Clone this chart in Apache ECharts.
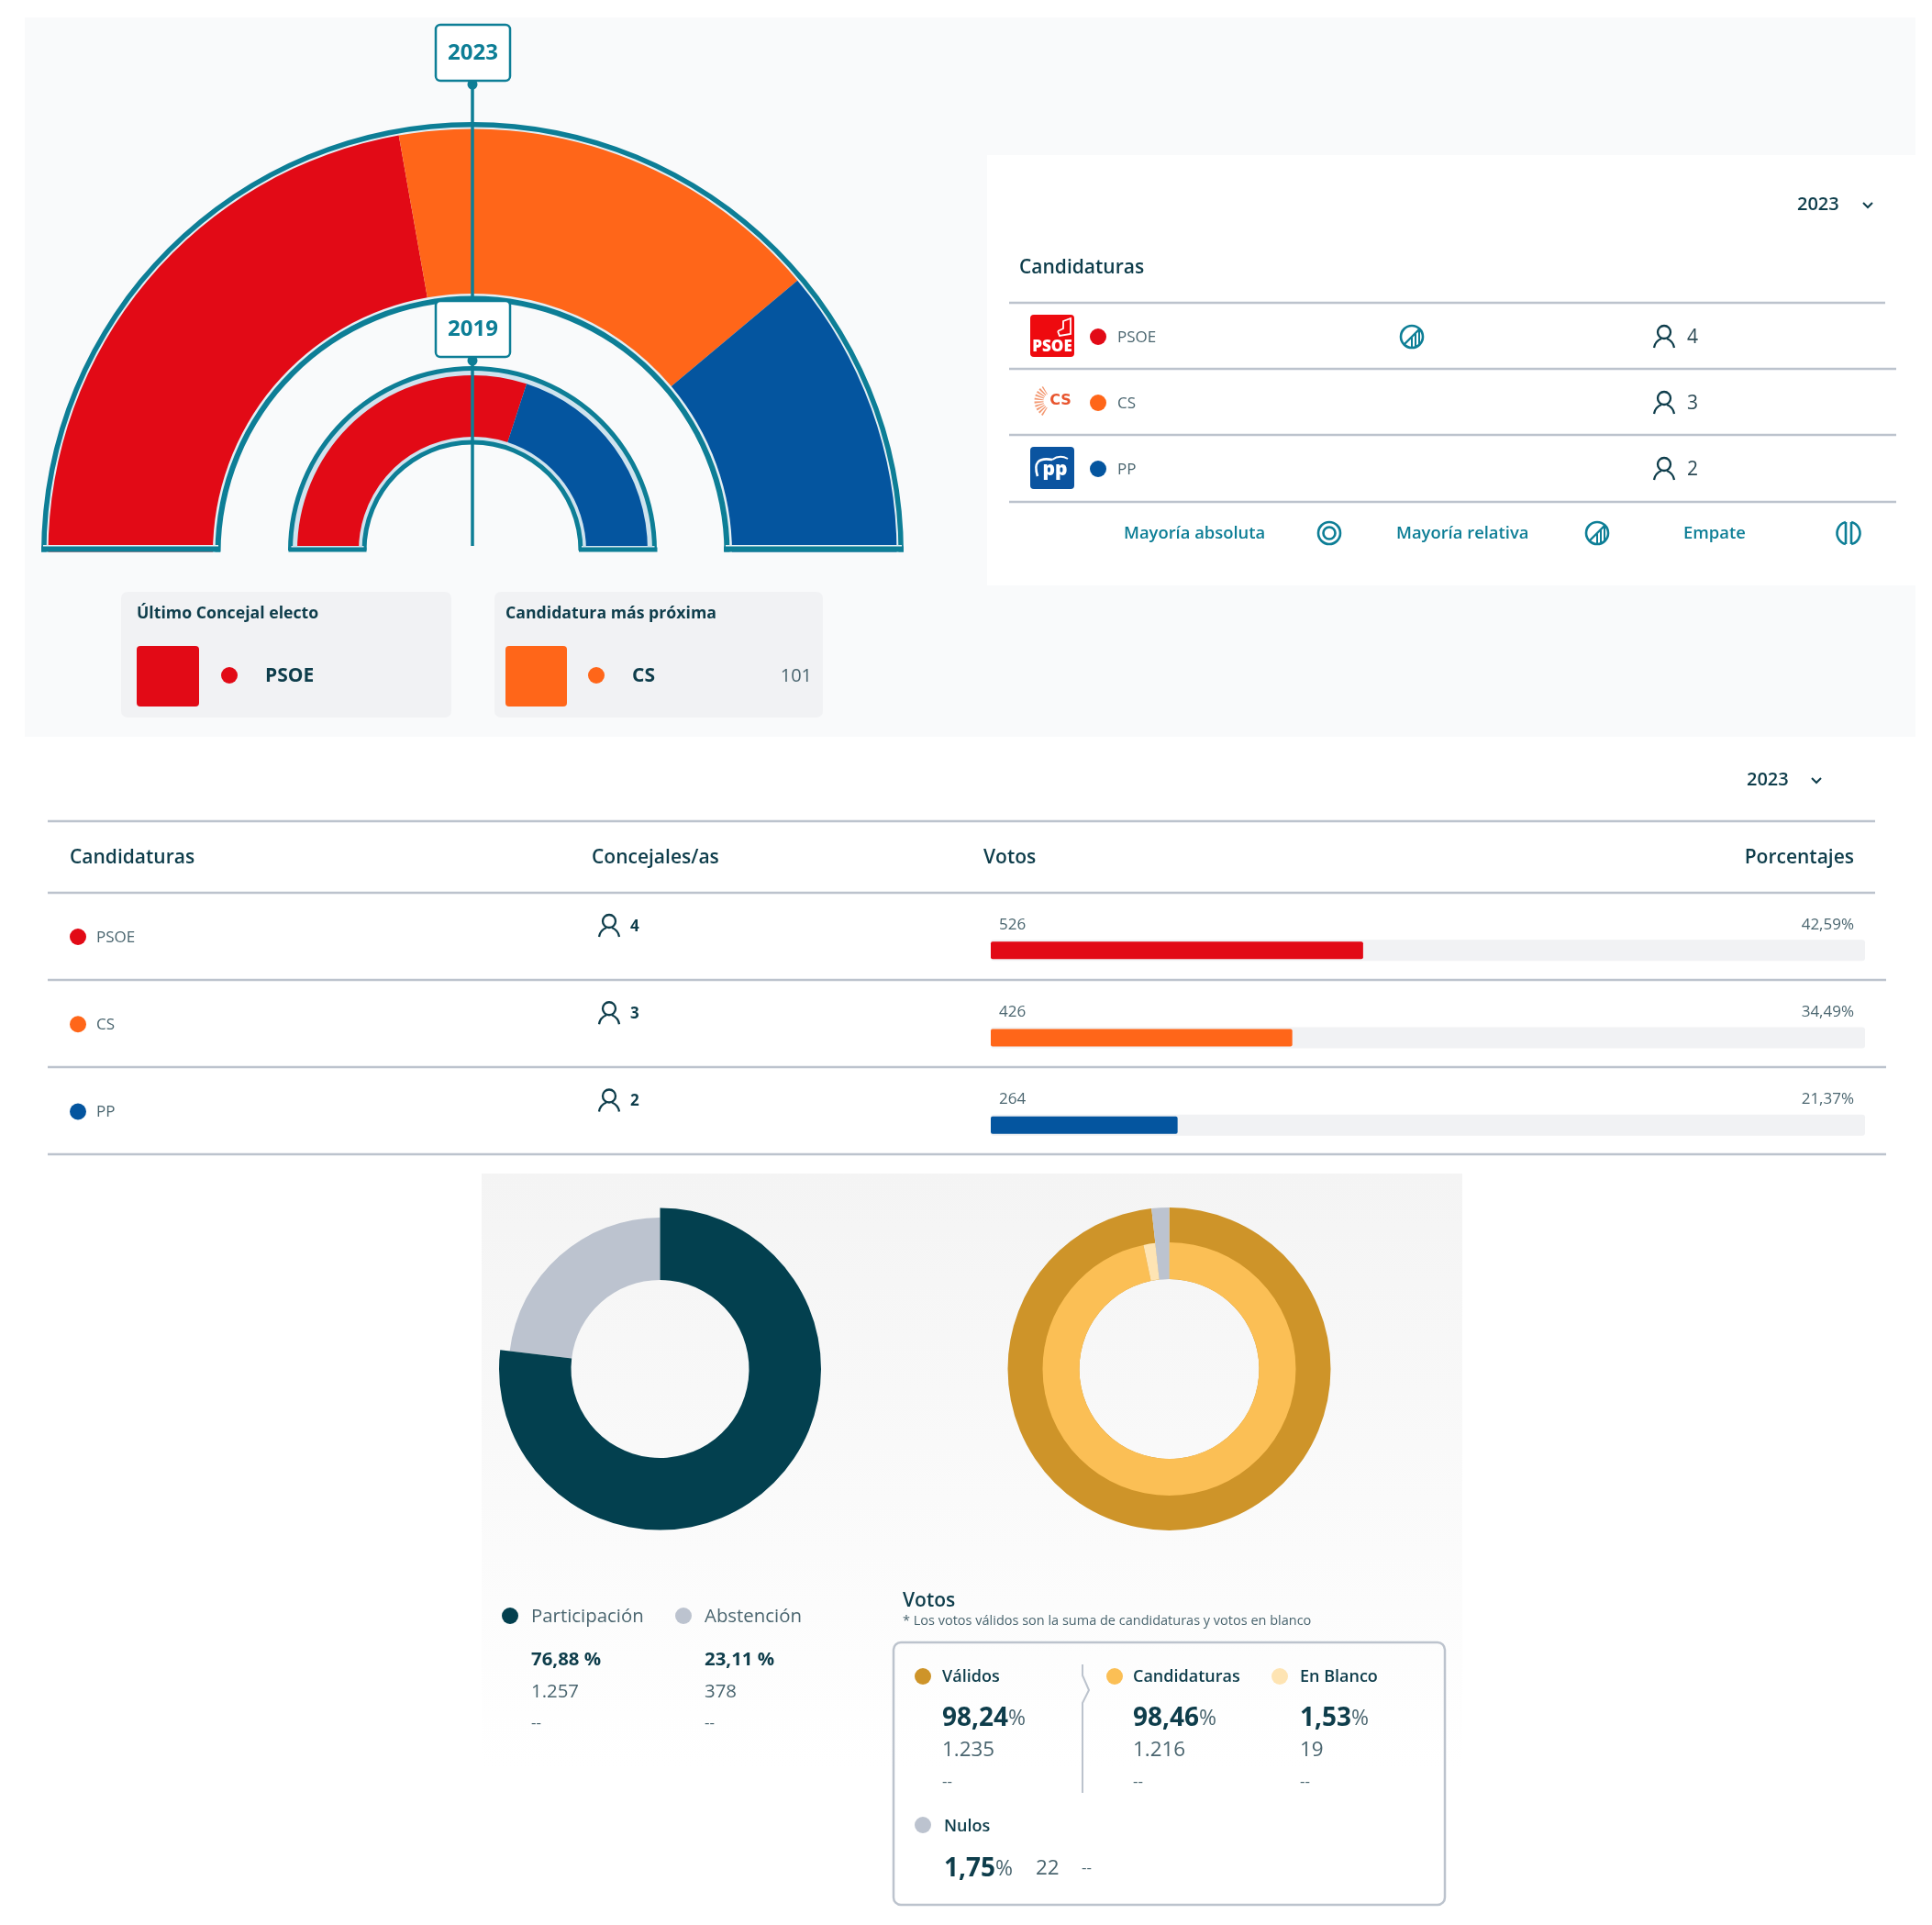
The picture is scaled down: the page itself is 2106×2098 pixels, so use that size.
<!DOCTYPE html>
<html>
<head>
<meta charset="utf-8">
<style>
    html, body { margin: 0; padding: 0; background: #fff; }
    #chart { width: 2106px; height: 2098px; }
</style>
<script src="https://cdn.jsdelivr.net/npm/echarts@6/dist/echarts.min.js"></script>
</head>
<body>
<div id="chart"></div>
<script>
// election results
const parties = ['PSOE', 'CS', 'PP'];
const seats2023 = [4, 3, 2];
const parties2019 = ['PSOE', 'PP'];
const seats2019 = [3, 2];
const votes = [526, 426, 264];
const votesPct = [42.59, 34.49, 21.37];
const votesPctLabel = ['42,59%', '34,49%', '21,37%'];

// donuts
const turnoutNames = ['Participación', 'Abstención'];
const turnoutValues = [1257, 378];
const turnoutPct = ['76,88 %', '23,11 %'];
const turnoutLabel = ['1.257', '378'];
const outerNames = ['Válidos', 'Nulos'];
const outerValues = [1235, 22];
const innerNames = ['Candidaturas', 'En Blanco', 'Nulos'];
const innerValues = [1216, 19, 22];

const partyColor = { PSOE: '#e20a16', CS: '#ff6619', PP: '#04559f' };
const TEAL = '#0d7e96';
const DARK = '#0e3d4b';
const MID = '#4a656f';
const LINE = '#bcc3cd';
const BG = '#f9fafb';
const FONT = '"Open Sans"';

function text(x, y, str, size, fill, weight, align) {
    return {
        type: 'text', x: x, y: y + (size >= 18 ? 2 : 1), z: 30,
        style: {
            text: str, fontSize: size, fill: fill || DARK, fontFamily: FONT,
            fontWeight: weight || 400, align: align || 'left', verticalAlign: 'middle'
        }
    };
}
function rect(x, y, w, h, fill, z, r) {
    return { type: 'rect', z: z, shape: { x: x, y: y, width: w, height: h, r: r || 0 }, style: { fill: fill } };
}
function dot(x, y, fill, r) {
    return { type: 'circle', z: 30, shape: { cx: x, cy: y, r: r || 9 }, style: { fill: fill } };
}
function ring(x, y, r, w, color) {
    return { type: 'circle', z: 30, shape: { cx: x, cy: y, r: r }, style: { fill: 'transparent', stroke: color, lineWidth: w } };
}
function seg(x1, y1, x2, y2, color, w, z) {
    return { type: 'line', z: z || 30, shape: { x1: x1, y1: y1, x2: x2, y2: y2 }, style: { stroke: color, lineWidth: w || 2 } };
}
function poly(points, color, w) {
    return { type: 'polyline', z: 30, shape: { points: points }, style: { stroke: color, lineWidth: w, fill: 'transparent' } };
}
function curve(x1, y1, cx, cy, x2, y2, color, w) {
    return { type: 'bezierCurve', z: 30, shape: { x1: x1, y1: y1, cpx1: cx, cpy1: cy, x2: x2, y2: y2 }, style: { stroke: color, lineWidth: w, fill: 'transparent' } };
}
function halfArc(x, y, r, start, end, color, w) {
    return { type: 'arc', z: 30, shape: { cx: x, cy: y, r: r, startAngle: start, endAngle: end, clockwise: true }, style: { stroke: color, lineWidth: w, fill: 'transparent' } };
}
function chevron(x, y) {
    return poly([[x - 5, y - 3], [x, y + 2], [x + 5, y - 3]], DARK, 2);
}
function userIcon(x, y) {
    return [
        ring(x, y - 5, 7, 2.3, DARK),
        curve(x - 3, y + 2, x - 10, y + 5, x - 11, y + 12, DARK, 2.3),
        curve(x + 3, y + 2, x + 10, y + 5, x + 11, y + 12, DARK, 2.3)
    ];
}
function yearBox(y, label) {
    return [
        { type: 'rect', z: 32, shape: { x: 475, y: y, width: 81, height: 61, r: 5 }, style: { fill: '#fff', stroke: TEAL, lineWidth: 2.5 } },
        { ...text(515.5, y + 29, label, 24, TEAL, 700, 'center'), z: 33 },
        { type: 'circle', z: 31, shape: { cx: 515, cy: y + 65, r: 5.5 }, style: { fill: TEAL } }
    ];
}
function relativeIcon(x, y) {
    return [
        ring(x, y, 12, 2.6, TEAL),
        seg(x - 8, y + 8, x + 8, y - 8, TEAL, 2.4),
        seg(x, y + 1, x, y + 11, TEAL, 2),
        seg(x + 4, y - 3, x + 4, y + 10, TEAL, 2),
        seg(x + 8, y - 7, x + 8, y + 8, TEAL, 2)
    ];
}

// half ring of one or more slices, all parliament arcs go through this
function arc(center, radius, names, values, colors, z) {
    return {
        type: 'pie', center: center, radius: radius, startAngle: 180, endAngle: 0, z: z, silent: true,
        label: { show: false }, labelLine: { show: false },
        data: names.map((n, i) => ({ name: n, value: values[i], itemStyle: { color: colors[i] } }))
    };
}
function band(center, radius, color, z) {
    return arc(center, radius, [''], [1], [color], z);
}
function donut(center, radius, names, values, colors, z) {
    return {
        type: 'pie', center: center, radius: radius, startAngle: 90, z: z, silent: true,
        label: { show: false }, labelLine: { show: false },
        data: names.map((n, i) => ({ name: n, value: values[i], itemStyle: { color: colors[i] } }))
    };
}

const C23 = [515, 603];
const C19 = [515, 600];
const graphics = [];

// panels
graphics.push(rect(27, 19, 2061, 784, BG, 0));
graphics.push(rect(1076, 169, 1012, 469, '#fff', 1));
graphics.push({
    type: 'rect', z: 0, shape: { x: 525, y: 1279, width: 1069, height: 810 },
    style: { fill: new echarts.graphic.LinearGradient(0, 0, 0, 1, [{ offset: 0, color: '#f4f4f4' }, { offset: 0.8, color: '#ffffff' }]) }
});

// arc bases, they are clipped flat here
graphics.push(rect(40, 601.5, 950, 8, BG, 20));
[[45, 195], [789, 196]].forEach(s => {
    graphics.push(rect(s[0] + 2, 594, s[1] - 4, 3, '#e4eff4', 21));
    graphics.push(rect(s[0], 595.5, s[1], 6, TEAL, 22));
});
[[314.5, 85], [631, 85.5]].forEach(s => {
    graphics.push(rect(s[0] + 3, 595, s[1] - 6, 3, '#cfe3ee', 21));
    graphics.push(rect(s[0], 596.5, s[1], 5, TEAL, 22));
});
graphics.push(seg(515, 92, 515, 595, TEAL, 3.5, 25));
graphics.push(...yearBox(27, '2023'), ...yearBox(328, '2019'));

// cards under the arcs
graphics.push(rect(132, 645, 360, 137, '#f1f2f4', 1, 7), rect(539, 645, 358, 137, '#f1f2f4', 1, 7));
graphics.push(text(149, 668, 'Último Concejal electo', 17.7, DARK, 700));
graphics.push(rect(149, 704, 68, 66, partyColor.PSOE, 2, 4), dot(250, 736, partyColor.PSOE));
graphics.push(text(289, 735, 'PSOE', 21, DARK, 700));
graphics.push(text(551, 668, 'Candidatura más próxima', 17.7, DARK, 700));
graphics.push(rect(551, 704, 67, 66, partyColor.CS, 2, 4), dot(650, 736, partyColor.CS));
graphics.push(text(689, 735, 'CS', 21, DARK, 700));
graphics.push(text(885, 735, '101', 20, MID, 400, 'right'));

// right panel table
graphics.push(text(1959, 221, '2023', 20, DARK, 600), chevron(2036, 224));
graphics.push(text(1111, 290, 'Candidaturas', 21, DARK, 600));
graphics.push(seg(1100, 330, 2055, 330, LINE, 2.5), seg(1100, 402, 2067, 402, LINE, 2.5));
graphics.push(seg(1100, 474, 2067, 474, LINE, 2.5), seg(1100, 547, 2067, 547, LINE, 2.5));
const rowY = [367, 439, 511];
parties.forEach((p, i) => {
    graphics.push(dot(1197, rowY[i], partyColor[p]));
    graphics.push(text(1218, rowY[i], p, 17, MID));
    graphics.push(...userIcon(1814, rowY[i]));
    graphics.push(text(1839, rowY[i] - 1, String(seats2023[i]), 21, '#2c4a55', 500));
});
// logos
graphics.push(rect(1123, 343, 48, 46, '#ee0a0f', 2, 4));
graphics.push(text(1147, 377, 'PSOE', 17, '#fff', 800, 'center'));
graphics.push(poly([[1153, 361], [1159, 358], [1159, 350], [1167, 347], [1167, 364], [1155, 366], [1153, 361]], '#fff', 1.8));
graphics.push({
    type: 'arc', z: 30, shape: { cx: 1146, cy: 437, r: 13.5, startAngle: 2.1, endAngle: 4.2, clockwise: true },
    style: { stroke: '#f39a74', lineWidth: 10, fill: 'transparent', lineDash: [1.5, 1.5] }
});
graphics.push({
    type: 'text', x: 1156, y: 437, z: 30,
    style: { text: 'CS', fontSize: 16, fill: '#e8552e', fontFamily: '"DejaVu Sans"', fontWeight: 700, align: 'center', verticalAlign: 'middle' }
});
graphics.push(rect(1123, 487, 48, 46, '#0b54a0', 2, 4));
graphics.push(text(1150, 510, 'pp', 21, '#fff', 800, 'center'));
graphics.push(curve(1131, 519, 1124, 497, 1147, 501, '#fff', 2.6), curve(1147, 501, 1155, 495, 1164, 500, '#fff', 2));
graphics.push(...relativeIcon(1539, 367));
// majority legend
graphics.push(text(1225, 580, 'Mayoría absoluta', 18.4, TEAL, 600), ring(1449, 581, 12, 2.6, TEAL), ring(1449, 581, 6.5, 2.6, TEAL));
graphics.push(text(1522, 580, 'Mayoría relativa', 18.4, TEAL, 600), ...relativeIcon(1741, 581));
graphics.push(text(1835, 580, 'Empate', 18.4, TEAL, 600));
graphics.push(
    halfArc(2015, 581, 12.5, Math.PI * 0.58, Math.PI * 1.42, TEAL, 2.6),
    halfArc(2015, 581, 12.5, Math.PI * 1.58, Math.PI * 2.42, TEAL, 2.6),
    seg(2012, 569, 2012, 593, TEAL, 2.6),
    seg(2018, 569, 2018, 593, TEAL, 2.6)
);

// votes table
graphics.push(text(1904, 848, '2023', 20, DARK, 600), chevron(1980, 851));
graphics.push(seg(52, 895, 2044, 895, LINE, 2.5), seg(52, 973, 2044, 973, LINE, 2.5));
graphics.push(seg(52, 1068, 2056, 1068, LINE, 2.5), seg(52, 1163, 2056, 1163, LINE, 2.5), seg(52, 1258, 2056, 1258, LINE, 2.5));
graphics.push(text(76, 933, 'Candidaturas', 21, DARK, 600), text(645, 933, 'Concejales/as', 21, DARK, 600));
graphics.push(text(1072, 933, 'Votos', 21, DARK, 600), text(2021, 933, 'Porcentajes', 21, DARK, 600, 'right'));
parties.forEach((p, i) => {
    const y = 1021 + i * 95.25;
    graphics.push(dot(85, y, partyColor[p]));
    graphics.push(text(105, y, p, 17, MID));
    graphics.push(...userIcon(664, y - 12));
    graphics.push(text(687, y - 12, String(seats2023[i]), 17, DARK, 700));
    graphics.push(text(1089, y - 14, String(votes[i]), 17, MID));
    graphics.push(text(2021, y - 14, votesPctLabel[i], 17, MID, 400, 'right'));
});

// turnout legend
const TURNOUT_COLORS = ['#03404f', '#bcc3cf'];
[[556, 579], [745, 768]].forEach((c, i) => {
    graphics.push(dot(c[0], 1761, TURNOUT_COLORS[i]));
    graphics.push(text(c[1], 1760, turnoutNames[i], 20.4, MID));
    graphics.push(text(c[1], 1807, turnoutPct[i], 20.4, DARK, 700));
    graphics.push(text(c[1], 1842, turnoutLabel[i], 20.4, MID));
    graphics.push(text(c[1], 1877, '--', 17, MID));
});

// votes box
const VOTE_COLORS = { valid: '#ce9429', cand: '#fbbf55', blank: '#fee4b3', nul: '#bcc3cf' };
function bigPct(x, y, value) {
    const t = text(x, y, '{a|' + value + '}{b|%}', 28, DARK, 700);
    t.style.rich = {
        a: { fontSize: 28, fontWeight: 700, fill: DARK, fontFamily: FONT },
        b: { fontSize: 23, fontWeight: 400, fill: MID, fontFamily: FONT }
    };
    return t;
}
graphics.push(text(984, 1743, 'Votos', 21, DARK, 600));
graphics.push(text(984, 1766, '* Los votos válidos son la suma de candidaturas y votos en blanco', 14.5, MID));
graphics.push({
    type: 'rect', z: 2, shape: { x: 974, y: 1790, width: 601, height: 286, r: 8 },
    style: { fill: 'transparent', stroke: LINE, lineWidth: 2.5 }
});
graphics.push(poly([[1180, 1814], [1180, 1826], [1187, 1842], [1180, 1856], [1180, 1954]], LINE, 2));
[[1006, 1027, 'Válidos', '98,24', '1.235', VOTE_COLORS.valid],
 [1215, 1235, 'Candidaturas', '98,46', '1.216', VOTE_COLORS.cand],
 [1395, 1417, 'En Blanco', '1,53', '19', VOTE_COLORS.blank]].forEach(r => {
    graphics.push(dot(r[0], 1827, r[5]));
    graphics.push(text(r[1], 1826, r[2], 18, DARK, 600));
    graphics.push(bigPct(r[1], 1871, r[3]));
    graphics.push(text(r[1], 1906, r[4], 22.4, MID));
    graphics.push(text(r[1], 1941, '--', 17, MID));
});
graphics.push(dot(1006, 1989, VOTE_COLORS.nul), text(1029, 1989, 'Nulos', 18, DARK, 600));
graphics.push(bigPct(1029, 2035, '1,75'), text(1129, 2035, '22', 22.4, MID), text(1179, 2035, '--', 17, MID));

const series = [
    // 2023 arc layers
    band(C23, [274.5, 470], TEAL, 5),
    band(C23, [280.5, 464.5], '#e4eff4', 6),
    arc(C23, [283, 462.5], parties, seats2023, parties.map(p => partyColor[p]), 7),
    // 2019 arc layers
    band(C19, [115.5, 201], TEAL, 5),
    band(C19, [120.5, 196], '#cfe3ee', 6),
    arc(C19, [124, 191], parties2019, seats2019, parties2019.map(p => partyColor[p]), 7),
    // vote bars
    {
        type: 'bar', xAxisIndex: 0, yAxisIndex: 0, barWidth: 23, silent: true, z: 5,
        itemStyle: { color: '#f1f2f4', borderRadius: 3 },
        data: parties.map(() => 100)
    },
    {
        type: 'bar', xAxisIndex: 1, yAxisIndex: 1, barWidth: 19, silent: true, z: 6,
        itemStyle: { borderRadius: 2 },
        data: parties.map((p, i) => ({ value: votesPct[i], itemStyle: { color: partyColor[p] } }))
    },
    // turnout donut, abstention slice is thinner
    donut([719.5, 1492], [97, 165], turnoutNames, turnoutValues, ['transparent', TURNOUT_COLORS[1]], 5),
    donut([719.5, 1492], [97, 175.5], turnoutNames, turnoutValues, [TURNOUT_COLORS[0], 'transparent'], 6),
    // votes donut
    donut([1274.5, 1492], [98, 176], outerNames, outerValues, [VOTE_COLORS.valid, VOTE_COLORS.nul], 5),
    donut([1274.5, 1492], [98, 138], innerNames, innerValues, [VOTE_COLORS.cand, VOTE_COLORS.blank, VOTE_COLORS.nul], 6)
];

const gridBox = { left: 1080, top: 988, width: 953, height: 285.75 };
const chart = echarts.init(document.getElementById('chart'), null, { renderer: 'canvas', devicePixelRatio: 1 });
chart.setOption({
    animation: false,
    backgroundColor: '#fff',
    grid: [gridBox, gridBox],
    xAxis: [
        { type: 'value', min: 0, max: 100, show: false, gridIndex: 0 },
        { type: 'value', min: 0, max: 100, show: false, gridIndex: 1 }
    ],
    yAxis: [
        { type: 'category', inverse: true, data: parties, show: false, gridIndex: 0 },
        { type: 'category', inverse: true, data: parties, show: false, gridIndex: 1 }
    ],
    graphic: { elements: graphics },
    series: series
});
</script>
</body>
</html>
